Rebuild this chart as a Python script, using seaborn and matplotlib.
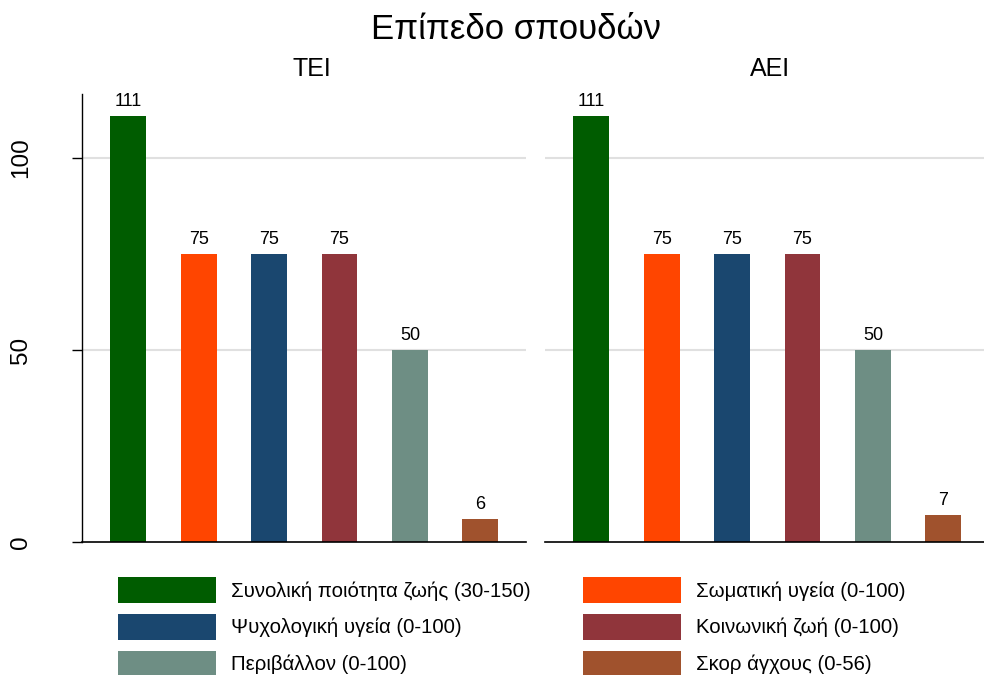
import matplotlib
matplotlib.use("Agg")
import matplotlib.pyplot as plt
from matplotlib.patches import Patch
import seaborn as sns
import pandas as pd

# Measures and their values per education level
measures = [
    "Συνολική ποιότητα ζωής (30-150)",
    "Σωματική υγεία (0-100)",
    "Ψυχολογική υγεία (0-100)",
    "Κοινωνική ζωή (0-100)",
    "Περιβάλλον (0-100)",
    "Σκορ άγχους (0-56)",
]
groups = ["ΤΕΙ", "ΑΕΙ"]
tei_values = [111, 75, 75, 75, 50, 6]
aei_values = [111, 75, 75, 75, 50, 7]
colors = ["#005c00", "#ff4500", "#1a476f", "#90353b", "#6e8e84", "#a0522d"]
yticks = [0, 50, 100]

df = pd.DataFrame({
    "group": [groups[0]] * len(measures) + [groups[1]] * len(measures),
    "measure": measures * 2,
    "value": tei_values + aei_values,
})
palette = dict(zip(measures, colors))

sns.set_theme(style="white", rc={"text.color": "black", "axes.labelcolor": "black",
                                 "xtick.color": "black", "ytick.color": "black"})
plt.rcParams["font.family"] = ["Liberation Sans", "DejaVu Sans"]

fig = plt.figure(figsize=(9.84, 6.75), dpi=100)
W, H = 984, 675
y0, ytop = 542, 94
ymax = 116.7
panel_left = [82, 545]
panel_width = 444
subtitle_x = [312, 770]

for i, g in enumerate(groups):
    ax = fig.add_axes([panel_left[i] / W, 1 - y0 / H, panel_width / W, (y0 - ytop) / H])
    sub = df[df["group"] == g]
    sns.barplot(data=sub, x="measure", y="value", hue="measure", palette=palette,
                order=measures, hue_order=measures, dodge=False, width=0.51,
                legend=False, ax=ax, saturation=1, edgecolor="none")
    ax.set_xlim(-0.66, 5.65)
    ax.set_ylim(0, ymax)
    ax.set_xlabel("")
    ax.set_ylabel("")
    ax.set_xticks([])
    for yv in yticks[1:]:
        ax.axhline(yv, color="#e0e0e0", lw=1.5, zorder=0)
    for side in ["top", "right"]:
        ax.spines[side].set_visible(False)
    ax.spines["bottom"].set_color("black")
    ax.spines["bottom"].set_linewidth(1.2)
    if i == 0:
        ax.spines["left"].set_color("black")
        ax.spines["left"].set_linewidth(1.0)
        ax.set_yticks(yticks)
        ax.set_yticklabels([str(t) for t in yticks], rotation=90, va="center", fontsize=17.5)
        ax.tick_params(axis="y", left=True, length=7, width=1, color="black", pad=29)
    else:
        ax.spines["left"].set_visible(False)
        ax.set_yticks([])
    for c in ax.containers:
        ax.bar_label(c, fmt="%d", padding=4.5, fontsize=13, color="black")
    ax.set_facecolor("white")
    fig.text(subtitle_x[i] / W, 1 - 76 / H, g, ha="center", va="baseline", fontsize=18)

fig.text(516 / W, 1 - 39 / H, "Επίπεδο σπουδών", ha="center", va="baseline", fontsize=25)

# Two-column legend laid out as two single-column blocks
handles = [Patch(facecolor=c, edgecolor="none") for c in colors]
left_idx = [0, 2, 4]
right_idx = [1, 3, 5]
fs = 14.7
fpx = fs * 100 / 72
legend_kw = dict(frameon=False, fontsize=fs, handlelength=98 / fpx, handleheight=32 / fpx,
                 labelspacing=11 / fpx, handletextpad=15 / fpx, borderpad=0, borderaxespad=0,
                 loc="upper left")
fig.legend([handles[k] for k in left_idx], [measures[k] for k in left_idx],
           bbox_to_anchor=(118 / W, 1 - 577 / H), **legend_kw)
fig.legend([handles[k] for k in right_idx], [measures[k] for k in right_idx],
           bbox_to_anchor=(583 / W, 1 - 577 / H), **legend_kw)

fig.savefig("out.png", dpi=100, facecolor="white")
